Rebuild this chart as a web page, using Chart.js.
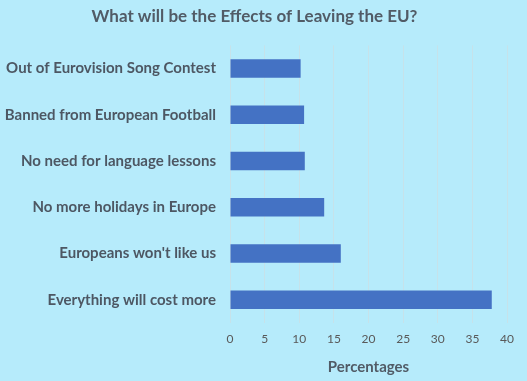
<!DOCTYPE html>
<html>
<head>
<meta charset="utf-8">
<script src="https://cdn.jsdelivr.net/npm/chart.js@4"></script>
<style>
  html, body { margin: 0; padding: 0; background: #b6ebfb; }
  #wrap { width: 527px; height: 381px; }
</style>
</head>
<body>
<div id="wrap"><canvas id="myChart" width="527" height="381"></canvas></div>
<script>
const labels = [
    'Out of Eurovision Song Contest',
    'Banned from European Football',
    'No need for language lessons',
    'No more holidays in Europe',
    "Europeans won't like us",
    'Everything will cost more'
];
const percentages = [10.2, 10.7, 10.8, 13.6, 16.0, 37.8];
const tickValues = [0, 5, 10, 15, 20, 25, 30, 35, 40];

const gridColor = '#c6e2ea';
const fontFamily = 'Lato, "Open Sans", sans-serif';

const ctx = document.getElementById('myChart');

new Chart(ctx, {
    type: 'bar',
    data: {
        labels: labels,
        datasets: [
            {
                label: 'Percentages',
                data: percentages,
                backgroundColor: '#4472c4',
                borderWidth: 0,
                categoryPercentage: 1,
                barPercentage: 0.4
            }
        ]
    },
    options: {
        indexAxis: 'y',
        responsive: false,
        animation: false,
        layout: { padding: { left: 2, right: 20, top: 0, bottom: 0 } },
        plugins: {
            legend: { display: false },
            tooltip: { enabled: false },
            title: {
                display: true,
                text: 'What will be the Effects of Leaving the EU?',
                color: '#515b66',
                font: { family: fontFamily, size: 17, weight: 'bold' },
                padding: { top: 6, bottom: 19 }
            }
        },
        scales: {
            x: {
                min: 0,
                max: 40,
                afterBuildTicks(scale) {
                    scale.ticks = tickValues.map(v => ({ value: v }));
                },
                afterFit(scale) {
                    scale.height = 58;
                },
                grid: { color: gridColor, drawTicks: false },
                border: { display: false },
                ticks: {
                    color: '#595959',
                    padding: 9,
                    font: { family: fontFamily, size: 12 }
                },
                title: {
                    display: true,
                    text: 'Percentages',
                    color: '#515b66',
                    font: { family: fontFamily, size: 15, weight: 'bold' },
                    padding: { top: 0, bottom: 5 }
                }
            },
            y: {
                afterFit(scale) {
                    scale.width = 228;
                },
                grid: { display: false, drawTicks: false },
                border: { display: false },
                ticks: {
                    color: '#4d5763',
                    padding: 14,
                    font: { family: fontFamily, size: 15, weight: 'bold' }
                }
            }
        }
    }
});
</script>
</body>
</html>
